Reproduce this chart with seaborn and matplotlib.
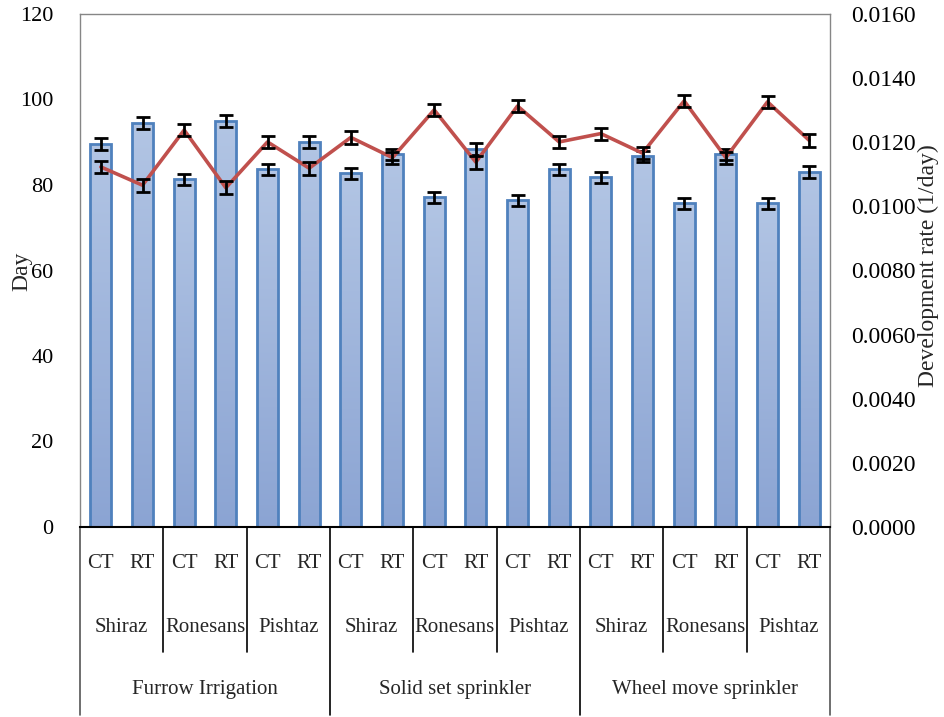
import numpy as np
import pandas as pd
import matplotlib
matplotlib.use("Agg")
import matplotlib.pyplot as plt
import seaborn as sns

# ---- data ----
irrigation = ["Furrow Irrigation", "Solid set sprinkler", "Wheel move sprinkler"]
cultivars = ["Shiraz", "Ronesans", "Pishtaz"]
treatments = ["CT", "RT"]

days = [89.5, 94.4, 81.3, 94.9, 83.7, 90.0,
        82.7, 87.2, 77.1, 88.4, 76.4, 83.7,
        81.8, 86.7, 75.7, 87.2, 75.7, 83.0]
day_err = [1.4, 1.4, 1.3, 1.4, 1.3, 1.4,
           1.3, 1.3, 1.3, 1.4, 1.3, 1.3,
           1.3, 1.3, 1.3, 1.3, 1.3, 1.4]
rate = [0.01123, 0.01066, 0.01238, 0.01058, 0.01201, 0.01119,
        0.01215, 0.01152, 0.01301, 0.01138, 0.01313, 0.01201,
        0.01227, 0.01166, 0.01329, 0.01152, 0.01326, 0.01206]
rate_err = [0.00020, 0.00020, 0.00019, 0.00020, 0.00019, 0.00020,
            0.00019, 0.00019, 0.00019, 0.00020, 0.00019, 0.00019,
            0.00019, 0.00019, 0.00019, 0.00019, 0.00019, 0.00020]

rows = []
i = 0
for irr in irrigation:
    for cv in cultivars:
        for tr in treatments:
            rows.append(dict(key=f"{irr}|{cv}|{tr}", idx=i, irr=irr, cv=cv, tr=tr,
                             day=days[i], rate=rate[i]))
            i += 1
df = pd.DataFrame(rows)

sns.set_theme(style="white")
plt.rcParams["font.family"] = ["Liberation Serif", "DejaVu Serif"]

fig = plt.figure(figsize=(9.44, 7.17), dpi=100)
ax = fig.add_axes([80 / 944, 1 - 527 / 717, 750 / 944, 513 / 717])

sns.barplot(data=df, x="key", y="day", order=list(df["key"]), ax=ax,
            width=0.5, color="#9db3db", errorbar=None, saturation=1,
            edgecolor="#4F81BD", linewidth=2)

# gradient fill for bars
top_c = np.array([178, 197, 228]) / 255
bot_c = np.array([139, 164, 211]) / 255
grad = np.linspace(0, 1, 256)[:, None, None]
grad_img = top_c * (1 - grad) + bot_c * grad
grad_img = np.repeat(grad_img, 2, axis=1)
for p in list(ax.patches):
    x0, y0 = p.get_x(), p.get_y()
    w, h = p.get_width(), p.get_height()
    im = ax.imshow(grad_img, extent=[x0, x0 + w, y0, y0 + h], aspect="auto",
                   origin="upper", zorder=p.get_zorder() - 0.1)
    im.set_clip_path(p)
    p.set_facecolor("none")

ax.errorbar(df["idx"], df["day"], yerr=day_err, fmt="none", ecolor="black",
            elinewidth=2, capsize=5, capthick=2, zorder=5)

ax.set_xlim(-0.5, 17.5)
ax.set_ylim(0, 120)
ax.set_yticks(np.arange(0, 121, 20))
ax.set_xticks([])
ax.set_xlabel("")
ax.set_ylabel("")
ax.tick_params(axis="y", length=0, pad=19, labelsize=16, colors="black")

for s in ["left", "top", "right"]:
    ax.spines[s].set_color("#868686")
    ax.spines[s].set_linewidth(1)
ax.spines["bottom"].set_color("black")
ax.spines["bottom"].set_linewidth(1.5)

# secondary axis
ax2 = ax.twinx()
sns.lineplot(data=df, x="idx", y="rate", ax=ax2, color="#C0504D", linewidth=2.6,
             zorder=2)
ax2.errorbar(df["idx"], df["rate"], yerr=rate_err, fmt="none", ecolor="black",
             elinewidth=2, capsize=5, capthick=2, zorder=4)
ax2.set_ylim(0, 0.016)
ax2.set_yticks(np.arange(0, 0.0161, 0.002))
ax2.set_yticklabels([f"{v:.4f}" for v in np.arange(0, 0.0161, 0.002)])
ax2.set_xlim(-0.5, 17.5)
ax2.set_xlabel("")
ax2.set_ylabel("")
ax2.tick_params(axis="y", length=0, pad=15.5, labelsize=17, colors="black")
for s in ["left", "top", "right", "bottom"]:
    ax2.spines[s].set_visible(False)
ax2.grid(False)
ax.grid(False)

# axis titles
fig.text(22 / 944, 1 - 271 / 717, "Day", rotation=90, ha="center", va="center",
         fontsize=17)
fig.text(928 / 944, 1 - 266 / 717, "Development rate (1/day)", rotation=90,
         ha="center", va="center", fontsize=17)

# multi-level category axis
tr_ax = ax.get_xaxis_transform()
H = 512.0
def yf(py):
    return (527 - py) / H

for _, r in df.iterrows():
    ax.text(r["idx"], yf(563), r["tr"], transform=tr_ax, ha="center", va="center",
            fontsize=15, clip_on=False)
for g in range(len(irrigation)):
    for c in range(len(cultivars)):
        center = g * 6 + c * 2 + 0.5
        ax.text(center, yf(627), cultivars[c], transform=tr_ax, ha="center",
                va="center", fontsize=15, clip_on=False)
    ax.text(g * 6 + 2.5, yf(689), irrigation[g], transform=tr_ax, ha="center",
            va="center", fontsize=15, clip_on=False)

for b in range(0, 19, 2):
    xb = b - 0.5
    if b % 6 == 0:
        y_end = yf(715)
        col = "black" if 0 < b < 18 else "#555555"
    else:
        y_end = yf(652)
        col = "black"
    ax.plot([xb, xb], [0, y_end], transform=tr_ax, color=col, lw=1.2,
            clip_on=False, zorder=1)

fig.savefig("out.png", dpi=100, facecolor="white")
